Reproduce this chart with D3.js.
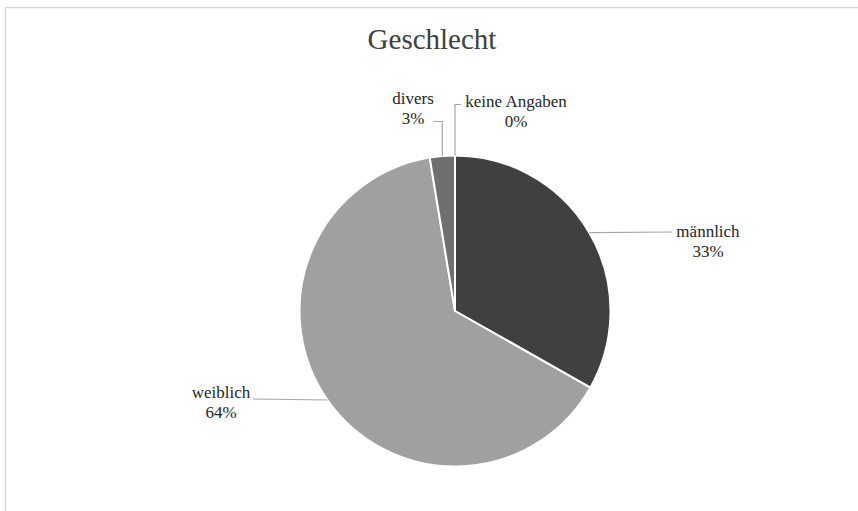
<!DOCTYPE html>
<html><head><meta charset="utf-8">
<script src="https://cdn.jsdelivr.net/npm/d3@7"></script>
<style>html,body{margin:0;padding:0;background:#fff;}svg{display:block;}</style>
</head><body>
<svg id="c" width="858" height="511"></svg>
<script>
const categories = ["männlich", "weiblich", "divers", "keine Angaben"];
const values = [33.2, 64.2, 2.6, 0];
const percentLabels = ["33%", "64%", "3%", "0%"];
const colors = ["#404040", "#a0a0a0", "#6f6f6f", "#d0d0d0"];

const svg = d3.select("#c");
const W = 858, H = 511;
const cx = 455, cy = 311, R = 155.5;

svg.append("rect").attr("x", 5.5).attr("y", 7.5).attr("width", W + 10).attr("height", H + 10)
  .attr("fill", "#fff").attr("stroke", "#d9d9d9").attr("stroke-width", 1.5);

svg.append("text").attr("x", 432).attr("y", 49).attr("text-anchor", "middle")
  .attr("font-family", "Liberation Serif, Times New Roman, serif").attr("font-size", 29)
  .attr("fill", "#404040").text("Geschlecht");

const pie = d3.pie().sort(null).value(d => d);
const arcs = pie(values);
const arc = d3.arc().innerRadius(0).outerRadius(R);

const g = svg.append("g").attr("transform", `translate(${cx},${cy})`);
g.selectAll("path").data(arcs).join("path")
  .attr("d", arc).attr("fill", (d, i) => colors[i])
  .attr("stroke", "#fff").attr("stroke-width", 2).attr("stroke-linejoin", "round");

// label layout: text anchor point, line end, elbow type
const layout = [
  {tx: 708, ty: 237, anchor: "middle", lx: 672, ly: 232, vertical: false},
  {tx: 221, ty: 398, anchor: "middle", lx: 253, ly: 399, vertical: false},
  {tx: 413, ty: 104, anchor: "middle", lx: 433, ly: 121.5, vertical: true},
  {tx: 516, ty: 107, anchor: "middle", lx: 461, ly: 104.5, vertical: true}
];

arcs.forEach((d, i) => {
  const a = (d.startAngle + d.endAngle) / 2;
  const px = cx + R * Math.sin(a), py = cy - R * Math.cos(a);
  const L = layout[i];
  let pts;
  if (L.vertical) pts = [[px, py], [px, L.ly], [L.lx, L.ly]];
  else pts = [[px, py], [L.lx, L.ly]];
  svg.append("path").attr("d", d3.line()(pts)).attr("fill", "none")
    .attr("stroke", "#a6a6a6").attr("stroke-width", 1.2);
  const t = svg.append("text").attr("text-anchor", L.anchor)
    .attr("font-family", "Liberation Serif, Times New Roman, serif").attr("font-size", 17)
    .attr("fill", "#262626");
  t.append("tspan").attr("x", L.tx).attr("y", L.ty).text(categories[i]);
  t.append("tspan").attr("x", L.tx).attr("y", L.ty + 19.5).text(percentLabels[i]);
});
</script>
</body></html>
